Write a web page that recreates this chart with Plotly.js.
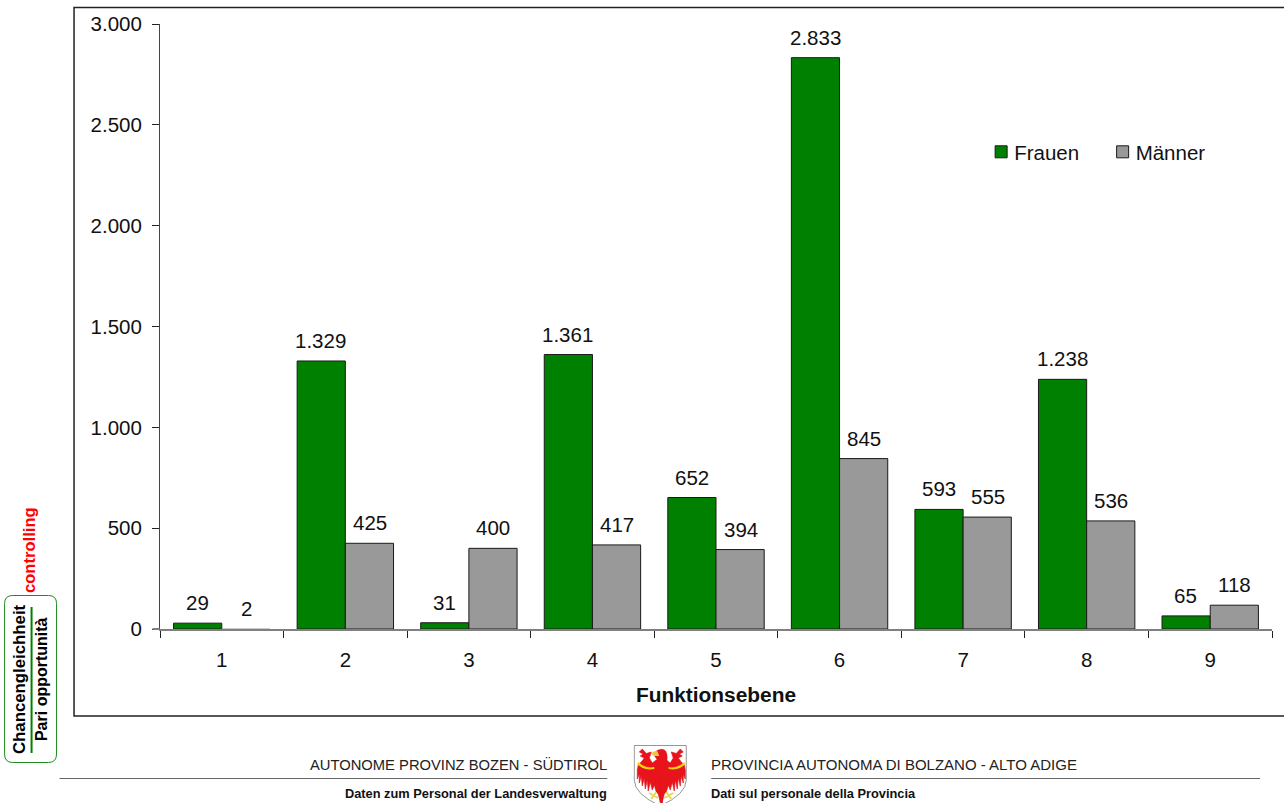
<!DOCTYPE html>
<html>
<head>
<meta charset="utf-8">
<script src="https://cdn.plot.ly/plotly-3.0.1.min.js"></script>
<style>html,body{margin:0;padding:0;background:#fff;overflow:hidden}#chart{width:1284px;height:803px}</style>
</head>
<body>
<div id="chart"></div>
<script>
const categories = ["1","2","3","4","5","6","7","8","9"];
const frauen = [29,1329,31,1361,652,2833,593,1238,65];
const maenner = [2,425,400,417,394,845,555,536,118];
const seriesNames = ["Frauen","Männer"];
const xTitle = "Funktionsebene";
const footerLeft = ["AUTONOME PROVINZ BOZEN - SÜDTIROL","Daten zum Personal der Landesverwaltung"];
const footerRight = ["PROVINCIA AUTONOMA DI BOLZANO - ALTO ADIGE","Dati sul personale della Provincia"];
const sideTexts = ["Chancengleichheit","Pari opportunità","controlling"];

const W=1284,H=803,mL=159.5,mR=12,mT=24,mB=174;
const pw=W-mL-mR, ph=H-mT-mB;
const PX=x=>(x-mL)/pw, PY=y=>(H-mB-y)/ph;
const FONT='"Liberation Sans", Arial, sans-serif';
const GREEN='#008000', GRAY='#999999', INK='#111111';

const fmt=v=>String(v).replace(/\B(?=(\d{3})+$)/g,'.');
const line=(x0,y0,x1,y1,color,width)=>({type:'line',xref:'paper',yref:'paper',x0:PX(x0),y0:PY(y0),x1:PX(x1),y1:PY(y1),line:{color,width}});
const label=(text,x,y,size,opts)=>Object.assign({xref:'paper',yref:'paper',x:PX(x),y:PY(y),text,showarrow:false,xanchor:'center',yanchor:'middle',font:{family:FONT,size,color:INK}},opts||{});

const wing='M29,13L23,16L19,19L16,14L18,8L13,9.5L9,5L6,8L10,10L7,12L11,14L8,18L5,21L4,26L4,35L6,30L6,39L8,32L9,42L11,34L12,45L14,36L15,47L17,38L19,46L21,41L23,48L25,50L27,58L29,60Z';
const arc='M5,18Q12,25 21,23L21,25Q10,27 4,20Z';
const crest="data:image/svg+xml;utf8,"+encodeURIComponent(
`<svg xmlns="http://www.w3.org/2000/svg" viewBox="0 0 54 59" width="216" height="236">
<path d="M1,1.5H53V36Q53,50 27,62Q1,50 1,36Z" fill="#fff" stroke="#8a8a8a" stroke-width="0.9"/>
<path d="${wing}" fill="#e8141c" stroke="#e8141c" stroke-width="0.7"/><path d="${arc}" fill="#f6d20a"/>
<g transform="translate(56,0) scale(-1,1)"><path d="${wing}" fill="#e8141c" stroke="#e8141c" stroke-width="0.7"/><path d="${arc}" fill="#f6d20a"/></g>
<path d="M21,12Q21,5 29,5Q35,6 34,16L36,30L28,34L22,24L24,16Z" fill="#e8141c"/>
<path d="M18,10Q19,7 24,7L26,12L21,12Z" fill="#e6c84a"/>
<path d="M16,49L25,54M23,48L18,55M31,54L40,49M33,48L38,55" stroke="#e2d85a" stroke-width="2" fill="none"/>
</svg>`);

const lineWidths=vals=>vals.map(v=>v<5?0:1);
const traces=[
 {type:'bar',name:seriesNames[0],x:categories,y:frauen,marker:{color:GREEN,line:{color:'#1a1a1a',width:lineWidths(frauen)}},hoverinfo:'x+y'},
 {type:'bar',name:seriesNames[1],x:categories,y:maenner,marker:{color:GRAY,line:{color:'#1a1a1a',width:lineWidths(maenner)}},hoverinfo:'x+y'}
];

const valueLabels=[];
[[frauen,-24.5],[maenner,24.5]].forEach(([vals,shift])=>vals.forEach((v,i)=>valueLabels.push({
  x:i,y:v,xref:'x',yref:'y',text:fmt(v),showarrow:false,xanchor:'center',yanchor:'bottom',
  xshift:shift,yshift:7,font:{family:FONT,size:20.5,color:INK}})));

const layout={
 width:W,height:H,margin:{l:mL,r:mR,t:mT,b:mB,pad:0},
 paper_bgcolor:'#fff',plot_bgcolor:'#fff',
 font:{family:FONT,size:20,color:INK},
 separators:',.',
 barmode:'group',bargap:0.22,bargroupgap:0,
 showlegend:true,
 legend:{orientation:'h',x:PX(974),y:PY(152),xanchor:'left',yanchor:'middle',entrywidth:76.5,entrywidthmode:'pixels',
   bgcolor:'rgba(0,0,0,0)',traceorder:'normal',font:{family:FONT,size:20.5,color:INK}},
 xaxis:{type:'category',categoryorder:'array',categoryarray:categories,range:[-0.5,8.5],tickson:'boundaries',
   ticks:'outside',ticklen:7,tickwidth:1,tickcolor:'#222',showgrid:false,zeroline:false,
   showline:true,linecolor:'#808080',linewidth:2,ticklabelstandoff:11,
   tickfont:{family:FONT,size:20.5,color:INK},
   title:{text:xTitle,standoff:18,font:{family:FONT,size:20.9,color:INK,weight:'bold'}}},
 yaxis:{range:[0,3000],tick0:0,dtick:500,tickformat:',d',ticks:'outside',ticklen:7,tickwidth:1,tickcolor:'#222',
   showgrid:false,zeroline:false,showline:true,linecolor:'#444',linewidth:1,ticklabelstandoff:6,
   tickfont:{family:FONT,size:20.5,color:INK}},
 images:[{source:crest,xref:'paper',yref:'paper',x:PX(633),y:PY(744),sizex:54/pw,sizey:59/ph,sizing:'stretch',xanchor:'left',yanchor:'top',layer:'above'}],
 shapes:[
  {type:'path',xref:'paper',yref:'paper',
   path:`M${PX(1300)},${PY(7.5)}L${PX(73.5)},${PY(7.5)}L${PX(73.5)},${PY(716)}L${PX(1300)},${PY(716)}`,
   line:{color:'#222',width:1.5},fillcolor:'rgba(0,0,0,0)'},
  line(152,629,159,629,'#808080',2),
  line(59,778.5,607,778.5,'#666',1),
  line(711,778.5,1260,778.5,'#666',1),
  line(31,607,31,753,GREEN,2),
  {type:'path',xref:'paper',yref:'paper',
   path:`M${PX(12)},${PY(595.5)}L${PX(48)},${PY(595.5)}Q${PX(56)},${PY(595.5)} ${PX(56)},${PY(603.5)}L${PX(56)},${PY(754)}Q${PX(56)},${PY(762.5)} ${PX(48)},${PY(762.5)}L${PX(12)},${PY(762.5)}Q${PX(4)},${PY(762.5)} ${PX(4)},${PY(754)}L${PX(4)},${PY(603.5)}Q${PX(4)},${PY(595.5)} ${PX(12)},${PY(595.5)}Z`,
   line:{color:'#1f8a1f',width:1},fillcolor:'rgba(0,0,0,0)'}
 ],
 annotations:valueLabels.concat([
  label(footerLeft[0],609,764,14.75,{xanchor:'right',font:{family:FONT,size:14.75,color:'#222'}}),
  label(footerRight[0],709,764,15,{xanchor:'left',font:{family:FONT,size:15,color:'#222'}}),
  label(footerLeft[1],609,793,12.8,{xanchor:'right',font:{family:FONT,size:12.8,color:INK,weight:'bold'}}),
  label(footerRight[1],709,793,12.8,{xanchor:'left',font:{family:FONT,size:12.8,color:INK,weight:'bold'}}),
  label(sideTexts[0],18.5,679,16.8,{textangle:-90,font:{family:FONT,size:16.8,color:'#000',weight:'bold'}}),
  label(sideTexts[1],40.5,679,16,{textangle:-90,font:{family:FONT,size:16,color:'#000',weight:'bold'}}),
  label(sideTexts[2],28.5,550,16.6,{textangle:-90,font:{family:FONT,size:16.6,color:'#ff0000',weight:'bold'}})
 ])
};
Plotly.newPlot('chart',traces,layout,{displayModeBar:false,staticPlot:true}).then(gd=>{
  gd.querySelectorAll('.legend .legendpoints').forEach(g=>g.setAttribute('transform','translate(7,0)'));
  gd.querySelectorAll('.legend .legendpoints path').forEach(p=>{p.style.stroke='#1a1a1a';p.style.strokeWidth='1px';});
});
</script>
</body>
</html>
